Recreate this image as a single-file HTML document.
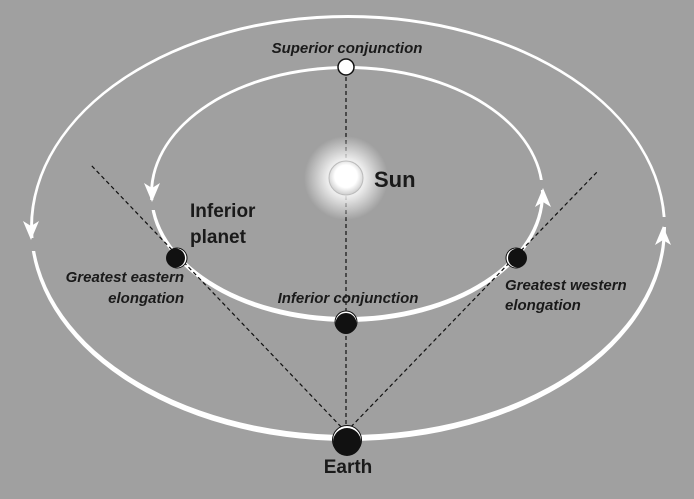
<!DOCTYPE html>
<html><head><style>html,body{margin:0;padding:0;background:#a0a0a0}svg{display:block}</style></head><body>
<svg width="694" height="499" viewBox="0 0 694 499" xmlns="http://www.w3.org/2000/svg">
<defs>
<radialGradient id="glow" cx="0.5" cy="0.5" r="0.5">
<stop offset="0" stop-color="#fff" stop-opacity="1"/>
<stop offset="0.45" stop-color="#fff" stop-opacity="0.8"/>
<stop offset="1" stop-color="#fff" stop-opacity="0"/>
</radialGradient>
<radialGradient id="sun" cx="0.5" cy="0.45" r="0.55">
<stop offset="0.6" stop-color="#fff"/>
<stop offset="1" stop-color="#ccc"/>
</radialGradient>
</defs>
<rect width="694" height="499" fill="#a0a0a0"/>
<ellipse cx="348" cy="228" rx="318" ry="213" fill="#fff"/>
<ellipse cx="348" cy="226.5" rx="315" ry="208.5" fill="#a0a0a0"/>
<ellipse cx="347" cy="194" rx="197" ry="128" fill="#fff"/>
<ellipse cx="347" cy="193" rx="194" ry="124" fill="#a0a0a0"/>
<!-- gaps -->
<rect x="24" y="238" width="14" height="13" fill="#a0a0a0"/>
<rect x="145" y="200" width="14" height="10" fill="#a0a0a0"/>
<rect x="536" y="180" width="14" height="10" fill="#a0a0a0"/>
<rect x="656" y="217" width="14" height="10" fill="#a0a0a0"/>
<!-- arrowheads -->
<polygon points="31,240 23,221 31,226 39,221" fill="#fff"/>
<polygon points="152,202 144,183 152,188 160,183" fill="#fff"/>
<polygon points="543,188 535,207 543,202 551,207" fill="#fff"/>
<polygon points="663,226 655,245 663,240 671,245" fill="#fff"/>
<!-- dashed lines -->
<g stroke="#111" stroke-width="1.2" stroke-dasharray="4,3" fill="none">
<line x1="346" y1="70" x2="346" y2="432"/>
<line x1="346" y1="432" x2="90" y2="164"/>
<line x1="346" y1="432" x2="598" y2="171"/>
</g>
<!-- sun -->
<circle cx="346" cy="178" r="42" fill="url(#glow)"/>
<circle cx="346" cy="178" r="17" fill="url(#sun)" stroke="#bbb" stroke-width="1"/>
<!-- planets -->
<circle cx="346" cy="67" r="8" fill="#fff" stroke="#111" stroke-width="1.5"/>
<circle cx="346" cy="322" r="11" fill="#fff" stroke="#111" stroke-width="1"/>
<circle cx="346" cy="323.5" r="10.5" fill="#111"/>
<circle cx="347" cy="440" r="14.5" fill="#fff" stroke="#111" stroke-width="1"/>
<circle cx="347" cy="442" r="14" fill="#111"/>
<circle cx="177" cy="258" r="10" fill="#fff" stroke="#111" stroke-width="1"/>
<circle cx="175.5" cy="258" r="9.5" fill="#111"/>
<circle cx="516" cy="258" r="10" fill="#fff" stroke="#111" stroke-width="1"/>
<circle cx="517.5" cy="258" r="9.5" fill="#111"/>
<!-- text -->
<g font-family="Liberation Sans, sans-serif" fill="#1a1a1a">
<text x="347" y="53" font-size="15" font-style="italic" font-weight="bold" text-anchor="middle">Superior conjunction</text>
<text x="374" y="187" font-size="22" font-weight="bold">Sun</text>
<text x="190" y="217" font-size="19" font-weight="bold">Inferior</text>
<text x="190" y="243" font-size="19" font-weight="bold">planet</text>
<text x="184" y="282" font-size="15" font-style="italic" font-weight="bold" text-anchor="end">Greatest eastern</text>
<text x="184" y="303" font-size="15" font-style="italic" font-weight="bold" text-anchor="end">elongation</text>
<text x="348" y="303" font-size="15" font-style="italic" font-weight="bold" text-anchor="middle">Inferior conjunction</text>
<text x="505" y="290" font-size="15" font-style="italic" font-weight="bold">Greatest western</text>
<text x="505" y="310" font-size="15" font-style="italic" font-weight="bold">elongation</text>
<text x="348" y="473" font-size="19" font-weight="bold" text-anchor="middle">Earth</text>
</g>
</svg>
</body></html>
